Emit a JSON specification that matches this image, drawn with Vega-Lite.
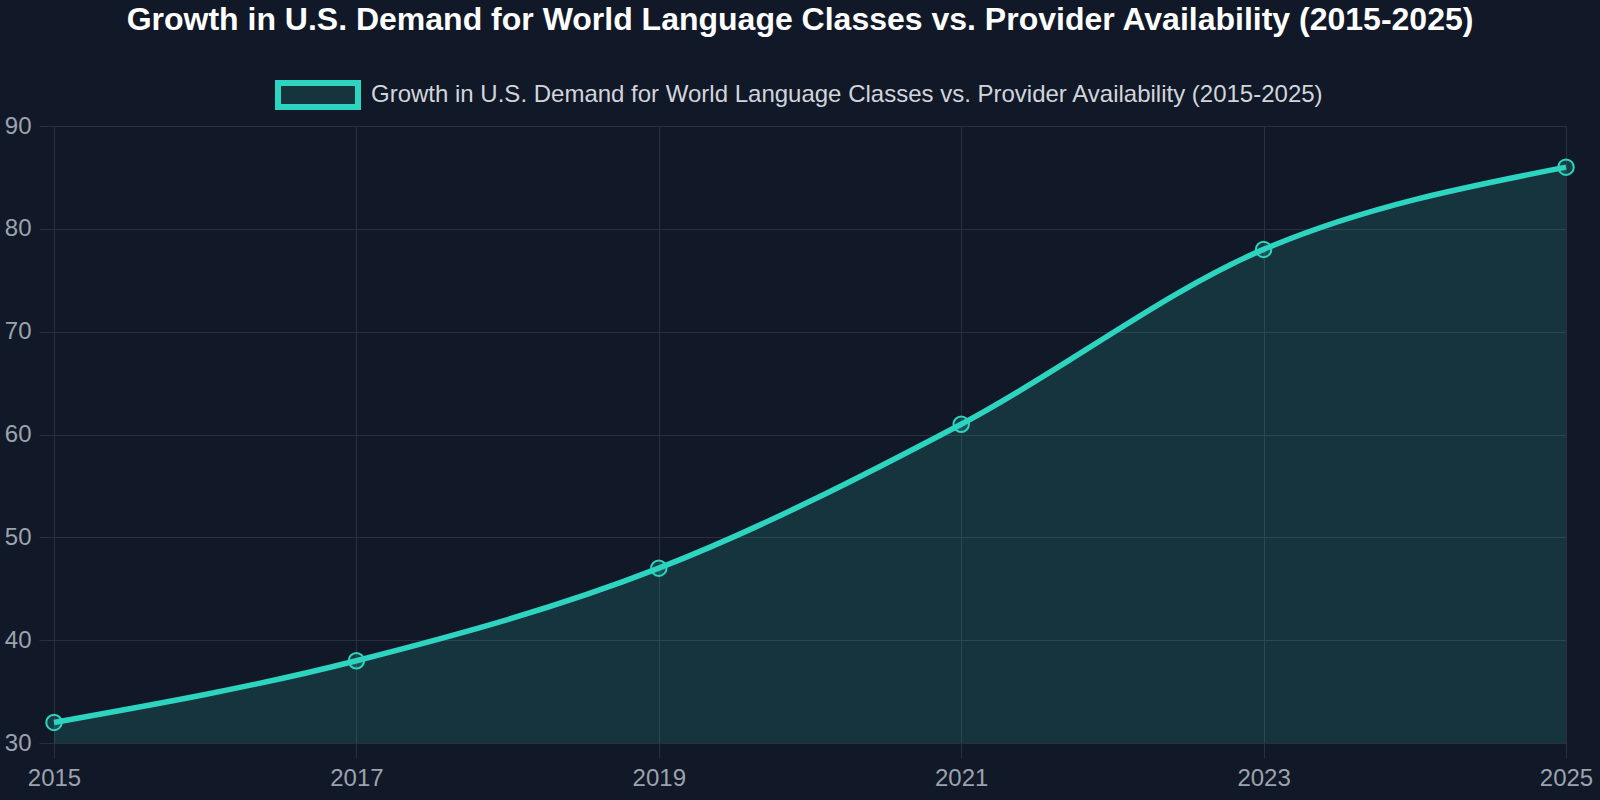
{
  "$schema": "https://vega.github.io/schema/vega-lite/v6.json",
  "autosize": {"type": "none"},
  "width": 1512,
  "height": 617,
  "padding": {"left": 54, "top": 126, "right": 34, "bottom": 57},
  "background": "#111827",
  "title": {
    "text": "Growth in U.S. Demand for World Language Classes vs. Provider Availability (2015-2025)",
    "font": "Liberation Sans",
    "fontSize": 32,
    "fontWeight": "bold",
    "color": "#ffffff",
    "anchor": "middle",
    "dx": -10,
    "offset": 15
  },
  "data": {
    "values": [
      {"year": 2015, "value": 32, "series": "Growth in U.S. Demand for World Language Classes vs. Provider Availability (2015-2025)"},
      {"year": 2017, "value": 38, "series": "Growth in U.S. Demand for World Language Classes vs. Provider Availability (2015-2025)"},
      {"year": 2019, "value": 47, "series": "Growth in U.S. Demand for World Language Classes vs. Provider Availability (2015-2025)"},
      {"year": 2021, "value": 61, "series": "Growth in U.S. Demand for World Language Classes vs. Provider Availability (2015-2025)"},
      {"year": 2023, "value": 78, "series": "Growth in U.S. Demand for World Language Classes vs. Provider Availability (2015-2025)"},
      {"year": 2025, "value": 86, "series": "Growth in U.S. Demand for World Language Classes vs. Provider Availability (2015-2025)"}
    ]
  },
  "encoding": {
    "x": {
      "field": "year",
      "type": "quantitative",
      "scale": {"domain": [2015, 2025], "nice": false, "zero": false},
      "axis": {"title": null, "values": [2015, 2017, 2019, 2021, 2023, 2025], "format": "d", "labelPadding": 8, "labelFlush": false}
    },
    "y": {
      "field": "value",
      "type": "quantitative",
      "scale": {"domain": [30, 90], "nice": false, "zero": false},
      "axis": {"title": null, "values": [30, 40, 50, 60, 70, 80, 90], "labelPadding": 8}
    }
  },
  "layer": [
    {
      "mark": {"type": "area", "interpolate": "monotone", "color": "#2dd4bf", "opacity": 0.15},
      "encoding": {"y2": {"datum": 30}}
    },
    {
      "mark": {"type": "line", "interpolate": "monotone", "strokeWidth": 5.5},
      "encoding": {
        "color": {
          "field": "series",
          "type": "nominal",
          "scale": {"range": ["#2dd4bf"]},
          "legend": {
            "orient": "none",
            "legendX": 221,
            "legendY": -74,
            "title": null,
            "padding": 0,
            "symbolType": "M-1,-0.3H1V0.3H-1Z",
            "symbolSize": 6400,
            "symbolStrokeWidth": 6,
            "labelFont": "Liberation Sans",
            "labelFontSize": 24,
            "labelColor": "#d1d5db",
            "labelOffset": 10,
            "labelLimit": 0,
            "encode": {
              "symbols": {
                "update": {
                  "fill": {"value": "#15343e"},
                  "fillOpacity": {"value": 1},
                  "stroke": {"value": "#2dd4bf"},
                  "strokeWidth": {"value": 6}
                }
              }
            }
          }
        }
      }
    },
    {
      "mark": {"type": "point", "shape": "circle", "filled": false, "size": 240, "stroke": "#2dd4bf", "strokeWidth": 2, "fill": "#2dd4bf", "fillOpacity": 0.2, "opacity": 1}
    }
  ],
  "config": {
    "view": {"stroke": "#292f3d"},
    "axis": {
      "gridColor": "#292f3d",
      "domainColor": "#292f3d",
      "tickColor": "#292f3d",
      "tickSize": 15,
      "labelFont": "Liberation Sans",
      "labelFontSize": 24,
      "labelColor": "#9ca3af"
    }
  }
}
